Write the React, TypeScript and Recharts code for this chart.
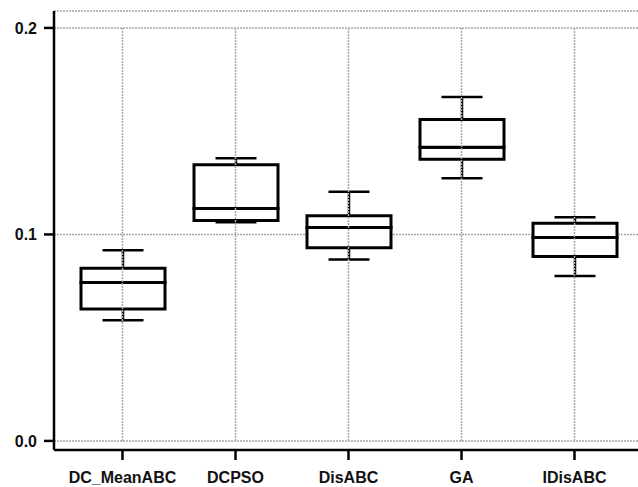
import { ComposedChart, Bar, XAxis, YAxis, CartesianGrid, ReferenceLine } from "recharts";

const algorithms = ["DC_MeanABC", "DCPSO", "DisABC", "GA", "IDisABC"];
const minValues = [0.0584, 0.1059, 0.0878, 0.1272, 0.0799];
const q1Values = [0.0639, 0.1067, 0.0936, 0.1364, 0.0893];
const medianValues = [0.0767, 0.1125, 0.1033, 0.1422, 0.0985];
const q3Values = [0.0836, 0.1337, 0.1091, 0.1556, 0.1054];
const maxValues = [0.0923, 0.1369, 0.1207, 0.1666, 0.1083];
const yTicks = [0, 0.1, 0.2];

const rows = algorithms.map((name, i) => ({
  name,
  base: minValues[i],
  lowWhisker: q1Values[i] - minValues[i],
  lowBox: medianValues[i] - q1Values[i],
  highBox: q3Values[i] - medianValues[i],
  highWhisker: maxValues[i] - q3Values[i],
}));

const CAP = 41;
const font = { fontFamily: "'Liberation Sans', Arial, sans-serif", fontWeight: 700, fontSize: 16, fill: "#111" };

const LowWhisker = (p: any) => {
  const cx = p.x + p.width / 2;
  const bottom = p.y + p.height;
  return (
    <g stroke="#000" strokeWidth={2.5}>
      <line x1={cx} x2={cx} y1={p.y} y2={bottom} />
      <line x1={cx - CAP / 2} x2={cx + CAP / 2} y1={bottom} y2={bottom} />
    </g>
  );
};

const HighWhisker = (p: any) => {
  const cx = p.x + p.width / 2;
  return (
    <g stroke="#000" strokeWidth={2.5}>
      <line x1={cx} x2={cx} y1={p.y} y2={p.y + p.height} />
      <line x1={cx - CAP / 2} x2={cx + CAP / 2} y1={p.y} y2={p.y} />
    </g>
  );
};

export default function App() {
  return (
    <div style={{ position: "absolute", left: 0, top: 0, width: 638, height: 487, background: "#fff" }}>
      <ComposedChart width={638} height={487} data={rows} margin={{ top: 11, right: 0, left: 0, bottom: 0 }} barSize={84}>
        <CartesianGrid vertical={false} stroke="#a8a8a8" strokeDasharray="2 1" strokeWidth={1.5} />
        {algorithms.map((a) => (
          <ReferenceLine
            key={a}
            segment={[{ x: a, y: 0 }, { x: a, y: 0.2 }]}
            stroke="#a8a8a8"
            strokeDasharray="2 1"
            strokeWidth={1.5}
          />
        ))}
        <XAxis
          dataKey="name"
          height={37}
          padding={{ left: 12, right: 7 }}
          tickSize={10}
          tickMargin={12}
          axisLine={{ stroke: "#000", strokeWidth: 2.5 }}
          tickLine={{ stroke: "#000", strokeWidth: 2.5 }}
          tick={font}
          interval={0}
        />
        <YAxis
          width={54}
          domain={[-0.0044, 0.2082]}
          ticks={yTicks}
          tickFormatter={(v: number) => v.toFixed(1)}
          tickSize={10}
          tickMargin={7}
          axisLine={{ stroke: "#000", strokeWidth: 2.5 }}
          tickLine={{ stroke: "#000", strokeWidth: 2.5 }}
          tick={font}
          allowDataOverflow
        />
        <Bar dataKey="base" stackId="s" fill="none" isAnimationActive={false} />
        <Bar dataKey="lowWhisker" stackId="s" shape={LowWhisker} isAnimationActive={false} />
        <Bar dataKey="lowBox" stackId="s" fill="#fff" stroke="#000" strokeWidth={3} isAnimationActive={false} />
        <Bar dataKey="highBox" stackId="s" fill="#fff" stroke="#000" strokeWidth={3} isAnimationActive={false} />
        <Bar dataKey="highWhisker" stackId="s" shape={HighWhisker} isAnimationActive={false} />
      </ComposedChart>
    </div>
  );
}
